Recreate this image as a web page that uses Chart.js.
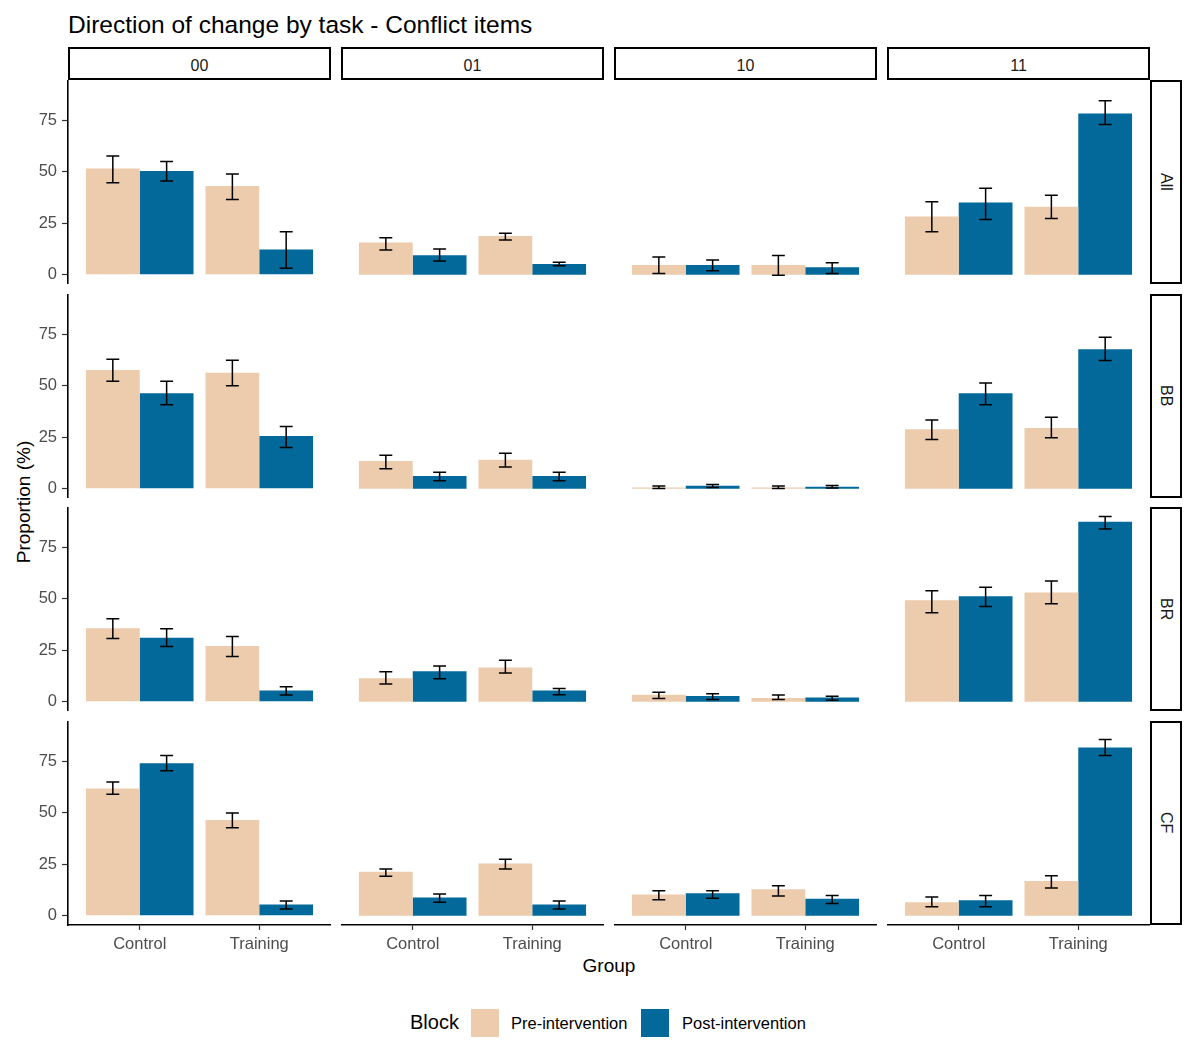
<!DOCTYPE html>
<html>
<head>
<meta charset="utf-8">
<script src="https://cdn.jsdelivr.net/npm/chart.js@4.4.1/dist/chart.umd.min.js"></script>
<style>
  html,body{margin:0;padding:0;background:#fff;}
  body{font-family:"Liberation Sans",Arial,sans-serif;}
  #wrap{position:relative;width:1200px;height:1054px;overflow:hidden;}
  canvas{position:absolute;}
  .title{position:absolute;left:68px;top:11px;font-size:24.5px;color:#000;white-space:nowrap;}
  .stripT{position:absolute;box-sizing:border-box;border:2px solid #000;background:#fff;padding-top:4px;
          display:flex;align-items:center;justify-content:center;font-size:16px;color:#1a1a1a;}
  .stripR{position:absolute;box-sizing:border-box;border:2px solid #000;background:#fff;
          display:flex;align-items:center;justify-content:center;font-size:16px;color:#1a1a1a;}
  .stripR span{writing-mode:vertical-rl;}
  .xtitle{position:absolute;left:68px;width:1082px;top:955px;text-align:center;font-size:19px;color:#000;}
  .ytitle{position:absolute;left:24px;top:502px;font-size:19px;color:#000;white-space:nowrap;
          transform:translate(-50%,-50%) rotate(-90deg);}
  .legTitle{position:absolute;left:410px;top:1011px;font-size:20px;color:#000;}
  .sw{position:absolute;top:1009px;width:28px;height:28px;}
  .legTxt{position:absolute;top:1014px;font-size:16.5px;color:#000;white-space:nowrap;}
</style>
</head>
<body>
<div id="wrap">
  <div class="title">Direction of change by task - Conflict items</div>
  <div class="xtitle">Group</div>
  <div class="ytitle">Proportion (%)</div>
  <div class="legTitle">Block</div>
  <div class="sw" style="left:471px;background:#EDCBAD"></div>
  <div class="legTxt" style="left:511px">Pre-intervention</div>
  <div class="sw" style="left:641px;background:#03699A"></div>
  <div class="legTxt" style="left:682px">Post-intervention</div>
</div>
<script>
// ---------------- DATA ----------------
const tasks = ['00', '01', '10', '11'];          // facet columns
const blocks = ['All', 'BB', 'BR', 'CF'];        // facet rows
const groups = ['Control', 'Training'];          // x categories
const seriesNames = ['Pre-intervention', 'Post-intervention'];
const yTickValues = [0, 25, 50, 75];

// value order in each array: 00-Control, 00-Training, 01-Control, 01-Training,
//                            10-Control, 10-Training, 11-Control, 11-Training
const allPre     = [51.5, 43.0, 15.6, 18.8, 4.7, 4.7, 28.2, 33.0];
const allPreLo   = [44.6, 36.5, 12.0, 16.9, 0.6, -0.3, 20.8, 27.3];
const allPreHi   = [57.6, 48.9, 18.0, 20.1, 8.6, 9.3, 35.4, 38.6];
const allPost    = [50.3, 12.2, 9.4, 5.2, 4.7, 3.6, 35.1, 78.2];
const allPostLo  = [45.5, 3.2, 6.7, 4.4, 1.9, 0.6, 26.8, 72.9];
const allPostHi  = [54.9, 20.8, 12.5, 6.0, 7.1, 5.8, 42.0, 84.4];

const bbPre      = [57.6, 56.3, 13.5, 14.1, 0.6, 0.6, 28.9, 29.5];
const bbPreLo    = [52.1, 50.0, 9.7, 10.6, 0.1, 0.1, 23.9, 24.7];
const bbPreHi    = [62.8, 62.3, 16.2, 17.2, 1.3, 1.3, 33.4, 34.7];
const bbPost     = [46.3, 25.6, 6.2, 6.2, 1.5, 1.0, 46.3, 67.7];
const bbPostLo   = [40.7, 20.0, 3.9, 3.9, 0.6, 0.3, 40.7, 62.2];
const bbPostHi   = [52.1, 30.2, 8.0, 8.0, 2.1, 1.6, 51.3, 73.5];

const brPre      = [35.6, 27.1, 11.4, 16.6, 3.4, 1.8, 49.3, 53.0];
const brPreLo    = [30.7, 22.0, 8.6, 13.9, 1.6, 1.1, 43.2, 47.5];
const brPreHi    = [40.3, 31.6, 14.5, 20.1, 4.6, 3.3, 53.8, 58.6];
const brPost     = [31.0, 5.4, 14.8, 5.4, 2.8, 2.0, 51.2, 87.3];
const brPostLo   = [26.8, 3.3, 11.1, 3.4, 1.1, 0.7, 46.2, 83.8];
const brPostHi   = [35.4, 7.3, 17.3, 6.4, 3.9, 2.6, 55.5, 89.9];

const cfPre      = [61.8, 46.5, 21.4, 25.4, 10.3, 12.9, 6.5, 16.8];
const cfPreLo    = [59.0, 42.7, 19.2, 22.7, 7.8, 9.6, 4.4, 13.4];
const cfPreHi    = [64.9, 49.8, 22.7, 27.4, 12.1, 14.5, 9.1, 19.4];
const cfPost     = [74.0, 5.4, 8.8, 5.4, 10.9, 8.2, 7.5, 81.6];
const cfPostLo   = [70.3, 3.3, 6.5, 3.3, 8.5, 5.9, 4.4, 77.8];
const cfPostHi   = [77.8, 7.2, 10.6, 7.2, 12.1, 9.8, 9.8, 85.5];

// --------------- STYLE / LAYOUT ---------------
const PRE_COLOR = '#EDCBAD';
const POST_COLOR = '#03699A';
const FONT = '"Liberation Sans", Arial, sans-serif';
const PANEL_L = 68, PITCH_X = 273, PANEL_W = 263;
const PANEL_T = 80, PITCH_Y = 213.7, PANEL_H = 204;
const Y_AXIS_W = 68, X_AXIS_H = 44;
const STRIP = 32;

const rowData = [
  [allPre, allPreLo, allPreHi, allPost, allPostLo, allPostHi],
  [bbPre, bbPreLo, bbPreHi, bbPost, bbPostLo, bbPostHi],
  [brPre, brPreLo, brPreHi, brPost, brPostLo, brPostHi],
  [cfPre, cfPreLo, cfPreHi, cfPost, cfPostLo, cfPostHi]
];

const errorBars = {
  id: 'errorBars',
  afterDatasetsDraw(chart) {
    const ctx = chart.ctx, ys = chart.scales.y;
    chart.data.datasets.forEach((ds, di) => {
      const meta = chart.getDatasetMeta(di);
      meta.data.forEach((bar, i) => {
        const x = bar.x;
        const yl = ys.getPixelForValue(ds.lo[i]);
        const yh = ys.getPixelForValue(ds.hi[i]);
        const w = bar.width * 0.12;
        ctx.save();
        ctx.strokeStyle = '#000';
        ctx.lineWidth = 1.5;
        ctx.beginPath();
        ctx.moveTo(x, yl); ctx.lineTo(x, yh);
        ctx.moveTo(x - w, yl); ctx.lineTo(x + w, yl);
        ctx.moveTo(x - w, yh); ctx.lineTo(x + w, yh);
        ctx.stroke();
        ctx.restore();
      });
    });
  }
};

function zeroPad(s) { s.paddingTop = 0; s.paddingBottom = 0; s.paddingLeft = 0; s.paddingRight = 0; }

const wrap = document.getElementById('wrap');

// strips
tasks.forEach((t, c) => {
  const d = document.createElement('div');
  d.className = 'stripT';
  d.style.left = (PANEL_L + c * PITCH_X) + 'px';
  d.style.top = (PANEL_T - STRIP - 1) + 'px';
  d.style.width = PANEL_W + 'px';
  d.style.height = (STRIP + 1) + 'px';
  d.textContent = t;
  wrap.appendChild(d);
});
blocks.forEach((b, r) => {
  const d = document.createElement('div');
  d.className = 'stripR';
  d.style.left = (PANEL_L + 3 * PITCH_X + PANEL_W) + 'px';
  d.style.top = Math.round(PANEL_T + r * PITCH_Y) + 'px';
  d.style.width = STRIP + 'px';
  d.style.height = PANEL_H + 'px';
  const s = document.createElement('span');
  s.textContent = b;
  d.appendChild(s);
  wrap.appendChild(d);
});

// panels
blocks.forEach((b, r) => {
  const [pre, preLo, preHi, post, postLo, postHi] = rowData[r];
  tasks.forEach((t, c) => {
    const hasY = c === 0, hasX = r === blocks.length - 1;
    const cv = document.createElement('canvas');
    const left = PANEL_L + c * PITCH_X - (hasY ? Y_AXIS_W : 0);
    const top = Math.round(PANEL_T + r * PITCH_Y);
    const w = PANEL_W + (hasY ? Y_AXIS_W : 0);
    const h = PANEL_H + (hasX ? X_AXIS_H : 0);
    cv.width = w; cv.height = h;
    cv.style.left = left + 'px'; cv.style.top = top + 'px';
    cv.style.width = w + 'px'; cv.style.height = h + 'px';
    wrap.appendChild(cv);
    const idx = groups.map((g, i) => c * 2 + i);
    new Chart(cv, {
      type: 'bar',
      data: {
        datasets: [
          { label: seriesNames[0], backgroundColor: PRE_COLOR, borderWidth: 0,
            data: idx.map((k, i) => ({ x: i + 1, y: pre[k] })),
            lo: idx.map(k => preLo[k]), hi: idx.map(k => preHi[k]),
            categoryPercentage: 0.9, barPercentage: 1.0 },
          { label: seriesNames[1], backgroundColor: POST_COLOR, borderWidth: 0,
            data: idx.map((k, i) => ({ x: i + 1, y: post[k] })),
            lo: idx.map(k => postLo[k]), hi: idx.map(k => postHi[k]),
            categoryPercentage: 0.9, barPercentage: 1.0 }
        ]
      },
      options: {
        responsive: false, animation: false, devicePixelRatio: 1,
        layout: { padding: 0, autoPadding: false },
        plugins: { legend: { display: false }, tooltip: { enabled: false } },
        scales: {
          x: {
            type: 'linear', min: 0.4, max: 2.6, offset: false, display: hasX,
            afterBuildTicks: s => { s.ticks = groups.map((g, i) => ({ value: i + 1 })); },
            afterFit: s => { zeroPad(s); if (hasX) s.height = X_AXIS_H; },
            ticks: { callback: v => groups[Math.round(v) - 1], autoSkip: false, maxRotation: 0,
                     padding: 5, color: '#4D4D4D', font: { family: FONT, size: 16.5 } },
            grid: { offset: false, drawOnChartArea: false, drawTicks: true, tickLength: 5, tickColor: '#333', tickWidth: 1.2 },
            border: { display: true, color: '#000', width: 1.6 }
          },
          y: {
            min: -4.5, max: 94.5, display: hasY,
            afterBuildTicks: s => { s.ticks = yTickValues.map(v => ({ value: v })); },
            afterFit: s => { zeroPad(s); if (hasY) s.width = Y_AXIS_W; },
            ticks: { padding: 5, color: '#4D4D4D', font: { family: FONT, size: 16.5 } },
            grid: { drawOnChartArea: false, drawTicks: true, tickLength: 6, tickColor: '#333', tickWidth: 1.2 },
            border: { display: true, color: '#000', width: 1.6 }
          }
        }
      },
      plugins: [errorBars]
    });
  });
});
</script>
</body>
</html>
